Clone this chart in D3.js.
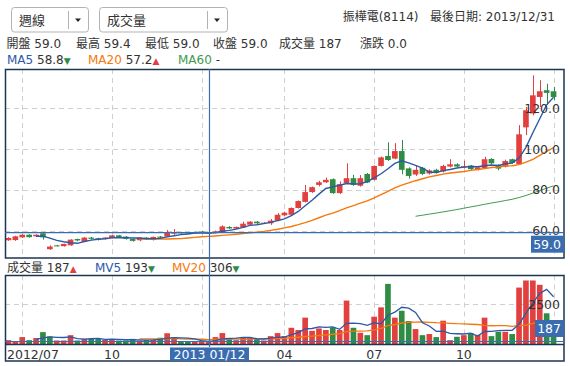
<!DOCTYPE html>
<html>
<head>
<meta charset="utf-8">
<script src="https://cdn.jsdelivr.net/npm/d3@7"></script>
<style>
  body { margin: 0; background: #fff; }
  svg text { font-family: "DejaVu Sans", "Noto Sans CJK TC", sans-serif; fill: #333; }
</style>
</head>
<body>
<svg width="570" height="366"></svg>
<script>
// weekly candles, 2012/06/22 .. 2013/12/31 (CNY week 2013/02/15 has no trading)
const opens = [55.3, 55.4, 56.7, 58.0, 57.2, 58.7, 50.9, 52.8, 52.4, 52.8,
  55.9, 54.6, 56.6, 56.3, 55.9, 56.4, 57.7, 57.1, 55.9, 55.3,
  56.6, 55.4, 57.1, 57.1, 58.5, 59.1, 59.0, 59.2, 59.6, 59.0,
  59.1, 59.2, 61.8, 61.0, 61.5, 62.9, 64.4, 63.7, 63.6, 64.9,
  67.5, 67.8, 71.1, 74.1, 78.9, 82.4, 83.7, 85.2, 78.4, 83.3,
  85.7, 82.0, 87.8, 84.9, 91.7, 96.6, 95.3, 99.0, 90.5, 87.5,
  90.8, 88.0, 89.8, 89.0, 91.4, 92.5, 90.9, 91.9, 89.8, 90.5,
  95.1, 92.2, 91.4, 95.0, 92.5, 110.6, 117.4, 125.5, 128.8, 128.3];
const highs = [56.8, 57.5, 58.2, 58.3, 58.2, 58.9, 52.8, 53.0, 53.6, 55.8,
  56.1, 56.8, 56.9, 56.5, 56.8, 57.9, 57.9, 57.3, 56.1, 56.8,
  56.8, 57.1, 57.4, 60.3, 60.8, 59.4, 59.2, 59.5, 59.9, 59.4,
  60.0, 62.6, 62.2, 62.0, 64.4, 64.6, 64.7, 64.2, 65.7, 68.6,
  69.3, 71.4, 74.8, 82.4, 81.6, 84.4, 86.0, 85.6, 84.1, 93.0,
  87.3, 87.2, 88.2, 92.0, 96.3, 103.3, 102.9, 104.4, 91.0, 91.8,
  91.2, 90.0, 90.3, 92.3, 95.0, 93.0, 94.3, 92.2, 91.4, 96.2,
  95.5, 92.5, 94.8, 95.3, 111.7, 120.6, 136.1, 133.7, 132.0, 130.4];
const lows = [55.0, 55.0, 56.5, 56.6, 57.0, 55.6, 50.6, 52.3, 52.2, 52.6,
  54.8, 54.4, 55.6, 55.2, 55.7, 56.2, 56.5, 55.6, 54.6, 54.8,
  55.6, 55.2, 56.1, 56.9, 58.0, 58.6, 58.3, 58.6, 58.9, 59.0,
  58.9, 59.0, 60.9, 60.8, 61.3, 62.7, 63.4, 63.5, 62.8, 64.6,
  67.2, 67.5, 70.8, 73.8, 78.5, 81.7, 83.3, 78.0, 78.0, 83.0,
  82.0, 81.6, 83.3, 84.6, 91.4, 94.2, 95.0, 87.6, 85.5, 86.8,
  87.2, 87.5, 88.0, 88.5, 91.0, 91.0, 90.5, 89.8, 89.5, 90.2,
  92.5, 89.6, 91.0, 92.8, 92.2, 106.8, 116.5, 120.6, 121.5, 124.0];
const closes = [56.4, 57.2, 58.0, 56.8, 58.0, 56.7, 52.2, 52.5, 53.5, 55.6,
  55.2, 56.6, 56.0, 55.6, 56.6, 57.7, 56.7, 56.0, 55.0, 56.6,
  56.0, 56.9, 56.5, 58.9, 59.1, 58.8, 58.5, 58.8, 59.0, 59.0,
  59.6, 62.1, 61.1, 61.8, 63.4, 64.4, 63.6, 63.9, 64.9, 67.8,
  68.8, 71.1, 74.5, 78.9, 81.3, 83.7, 84.9, 78.4, 82.8, 85.7,
  82.4, 85.7, 83.6, 91.7, 95.9, 94.6, 99.0, 89.8, 86.8, 89.8,
  87.8, 89.5, 88.4, 91.7, 92.5, 91.4, 91.6, 90.1, 91.0, 95.0,
  93.0, 90.4, 94.1, 93.2, 107.2, 119.0, 126.3, 128.3, 127.5, 125.5];
const volumes = [270, 170, 460, 270, 400, 770, 500, 250, 250, 580,
  250, 350, 350, 350, 300, 330, 250, 250, 350, 250,
  280, 300, 420, 700, 430, 210, 205, 185, 180, 187,
  460, 710, 330, 270, 440, 420, 330, 250, 520, 710,
  520, 1040, 900, 1670, 850, 1000, 900, 1060, 900, 2730,
  1040, 730, 580, 1730, 2310, 3770, 1670, 2100, 1460, 960,
  580, 650, 460, 1480, 270, 480, 580, 710, 600, 1670,
  520, 790, 790, 650, 3540, 3980, 3980, 3710, 1940, 1250];

const tickLabels = ["2012/07", "10", "2013/01", "04", "07", "10"];
const priceTicks = [60, 80, 100, 120];
const volTicks = [2500];
const noTradeWeek = new Date(2013, 1, 15);
const weeks = d3.timeFriday.range(new Date(2012, 5, 22), new Date(2014, 0, 4))
  .filter(d => +d !== +noTradeWeek);
const cross = 29; // hovered week
const crossLabel = "2013 01/12";

const RED = "#e2403f", GREEN = "#2f8c45", BLUE = "#2c58a8", ORANGE = "#f5780c",
  MA60C = "#3f9a50", NAVY = "#1c3552", CROSS = "#3a6db0", GRID = "#cfcfcf";

const svg = d3.select("svg");
const N = closes.length;

const ma = (arr, n) => arr.map((v, i) => i < n - 1 ? null : d3.mean(arr.slice(i - n + 1, i + 1)));
const ma5 = ma(closes, 5), ma20 = ma(closes, 20), ma60 = ma(closes, 60);
const mv5 = ma(volumes, 5), mv20 = ma(volumes, 20);

const x = d3.scaleBand().domain(d3.range(N)).range([5, 557]).paddingInner(0.18).paddingOuter(0.09);
const cx = i => x(i) + x.bandwidth() / 2;
const yP = d3.scaleLinear().domain([46.6, 139.2]).range([258, 69]);
const yV = d3.scaleLinear().domain([0, 4290]).range([344.5, 275.5]);

const tickIdx = d3.range(1, N).filter(i =>
  weeks[i].getMonth() !== weeks[i - 1].getMonth() && weeks[i].getMonth() % 3 === 0);

// ---- header ----
function dropdown(x0, w, sep, label) {
  const g = svg.append("g");
  g.append("rect").attr("x", x0 + 0.5).attr("y", 7.5).attr("width", w).attr("height", 24.5)
    .attr("rx", 3).attr("fill", "#fff").attr("stroke", "#b3b3b3");
  g.append("line").attr("x1", sep + 0.5).attr("x2", sep + 0.5).attr("y1", 11).attr("y2", 29)
    .attr("stroke", "#b3b3b3");
  g.append("path").attr("d", `M${sep + 7},18.5 L${sep + 13},18.5 L${sep + 10},22 Z`).attr("fill", "#222");
  g.append("text").attr("x", x0 + 8).attr("y", 24.5).attr("font-size", 13).text(label);
}
dropdown(11, 77, 68, "週線");
dropdown(99, 128, 207, "成交量");

svg.append("text").attr("x", 555).attr("y", 20.5).attr("font-size", 12).attr("text-anchor", "end")
  .text("振樺電(8114)\u00a0\u00a0\u00a0最後日期: 2013/12/31");

const quote = [["開盤", opens[cross], 6.5], ["最高", highs[cross], 76], ["最低", lows[cross], 145],
  ["收盤", closes[cross], 213], ["成交量", volumes[cross], 279], ["漲跌", closes[cross] - closes[cross - 1], 360]];
svg.selectAll("text.quote").data(quote).join("text").attr("class", "quote")
  .attr("x", d => d[2]).attr("y", 47.5).attr("font-size", 12)
  .text(d => d[0] + " " + (d[0] === "成交量" ? d[1] : d3.format(".1f")(d[1])));

function legend(y, items) {
  items.forEach(it => {
    const t = svg.append("text").attr("x", it.x).attr("y", y).attr("font-size", 12);
    t.append("tspan").style("fill", it.color).text(it.name);
    t.append("tspan").text(" " + it.value);
    if (it.up !== undefined) {
      t.append("tspan").attr("font-size", 9).style("fill", it.up ? RED : GREEN).text(it.up ? "▲" : "▼");
    }
  });
}
const f1 = d3.format(".1f");
legend(64, [
  { x: 7, name: "MA5", color: BLUE, value: f1(ma5[cross]), up: ma5[cross] > ma5[cross - 1] },
  { x: 88, name: "MA20", color: ORANGE, value: f1(ma20[cross]), up: ma20[cross] > ma20[cross - 1] },
  { x: 178, name: "MA60", color: MA60C, value: "-" }
]);
legend(272, [
  { x: 7, name: "成交量", color: "#333", value: volumes[cross], up: volumes[cross] >= volumes[cross - 1] },
  { x: 95, name: "MV5", color: BLUE, value: Math.round(mv5[cross]), up: mv5[cross] > mv5[cross - 1] },
  { x: 172, name: "MV20", color: ORANGE, value: Math.round(mv20[cross]), up: mv20[cross] > mv20[cross - 1] }
]);

// ---- clip paths ----
const defs = svg.append("defs");
defs.append("clipPath").attr("id", "clipMain").append("rect").attr("x", 5).attr("y", 69).attr("width", 559).attr("height", 189);
defs.append("clipPath").attr("id", "clipVol").append("rect").attr("x", 5).attr("y", 275.5).attr("width", 559).attr("height", 69);

// ---- main panel ----
const main = svg.append("g").attr("clip-path", "url(#clipMain)");
main.selectAll("line.vg").data(tickIdx).join("line")
  .attr("x1", i => Math.round(cx(i)) + 0.5).attr("x2", i => Math.round(cx(i)) + 0.5)
  .attr("y1", 69).attr("y2", 258).attr("stroke", GRID).attr("stroke-dasharray", "5,4");
main.selectAll("line.hg").data(priceTicks).join("line")
  .attr("x1", 5).attr("x2", 564).attr("y1", d => Math.round(yP(d)) + 0.5).attr("y2", d => Math.round(yP(d)) + 0.5)
  .attr("stroke", GRID).attr("stroke-dasharray", "5,4");

const candleColor = i => closes[i] >= opens[i] ? RED : GREEN;
const candles = main.selectAll("g.candle").data(d3.range(N)).join("g");
candles.append("line")
  .attr("x1", i => Math.round(cx(i)) + 0.5).attr("x2", i => Math.round(cx(i)) + 0.5)
  .attr("y1", i => yP(highs[i])).attr("y2", i => yP(lows[i]))
  .attr("stroke", candleColor);
candles.append("rect")
  .attr("x", i => x(i)).attr("width", x.bandwidth())
  .attr("y", i => yP(Math.max(opens[i], closes[i])))
  .attr("height", i => Math.max(1, Math.abs(yP(opens[i]) - yP(closes[i]))))
  .attr("fill", candleColor);

const priceLine = d3.line().defined(d => d != null).x((d, i) => cx(i)).y(d => yP(d));
[[ma60, MA60C, 1], [ma20, ORANGE, 1.4], [ma5, BLUE, 1.4]].forEach(([s, c, w]) => {
  main.append("path").datum(s).attr("d", priceLine).attr("fill", "none").attr("stroke", c).attr("stroke-width", w);
});

svg.selectAll("text.ptick").data(priceTicks).join("text").attr("class", "ptick")
  .attr("x", 560).attr("y", d => yP(d)).attr("dy", "0.36em").attr("text-anchor", "end")
  .attr("font-size", 12.5).text(d => f1(d));

// ---- volume panel ----
const vol = svg.append("g").attr("clip-path", "url(#clipVol)");
vol.selectAll("line.vg").data(tickIdx).join("line")
  .attr("x1", i => Math.round(cx(i)) + 0.5).attr("x2", i => Math.round(cx(i)) + 0.5)
  .attr("y1", 275.5).attr("y2", 344.5).attr("stroke", GRID).attr("stroke-dasharray", "5,4");
vol.selectAll("line.hg").data(volTicks).join("line")
  .attr("x1", 5).attr("x2", 564).attr("y1", d => Math.round(yV(d)) + 0.5).attr("y2", d => Math.round(yV(d)) + 0.5)
  .attr("stroke", GRID).attr("stroke-dasharray", "5,4");
vol.selectAll("rect.bar").data(d3.range(N)).join("rect")
  .attr("x", i => x(i)).attr("width", x.bandwidth())
  .attr("y", i => yV(volumes[i])).attr("height", i => yV(0) - yV(volumes[i]))
  .attr("fill", i => (i === 0 ? closes[i] >= opens[i] : closes[i] >= closes[i - 1]) ? RED : GREEN);
const volLine = d3.line().defined(d => d != null).x((d, i) => cx(i)).y(d => yV(d));
[[mv20, ORANGE], [mv5, BLUE]].forEach(([s, c]) => {
  vol.append("path").datum(s).attr("d", volLine).attr("fill", "none").attr("stroke", c).attr("stroke-width", 1.3);
});
svg.selectAll("text.vtick").data(volTicks).join("text").attr("class", "vtick")
  .attr("x", 560).attr("y", d => yV(d)).attr("dy", "0.36em").attr("text-anchor", "end")
  .attr("font-size", 12.5).text(d => d);

// x axis labels (the one under the crosshair date box is covered by it)
const xc = Math.round(cx(cross)) + 0.5;
const shownTicks = tickIdx.map((i, k) => ({ i, k })).filter(d => Math.abs(cx(d.i) - xc) > 40);
svg.selectAll("text.xtick").data(shownTicks).join("text").attr("class", "xtick")
  .attr("x", d => d.k === 0 ? 7 : cx(d.i)).attr("y", 358.5)
  .attr("text-anchor", d => d.k === 0 ? "start" : "middle")
  .attr("font-size", 12.5).text(d => tickLabels[d.k]);

// ---- frames ----
svg.append("rect").attr("x", 5.5).attr("y", 69.5).attr("width", 558.5).attr("height", 188.5)
  .attr("fill", "none").attr("stroke", NAVY).attr("stroke-width", 1.5);
svg.append("rect").attr("x", 5.5).attr("y", 275.5).attr("width", 558.5).attr("height", 85.5)
  .attr("fill", "none").attr("stroke", NAVY).attr("stroke-width", 1.5);
svg.append("line").attr("x1", 5).attr("x2", 564).attr("y1", 344.5).attr("y2", 344.5)
  .attr("stroke", NAVY).attr("stroke-width", 1.5);

// ---- crosshair ----
svg.append("line").attr("x1", xc).attr("x2", xc).attr("y1", 69).attr("y2", 347)
  .attr("stroke", CROSS).attr("stroke-width", 1.2);
const yc = yP(closes[cross]);
svg.append("line").attr("x1", 5).attr("x2", 564).attr("y1", yc).attr("y2", yc)
  .attr("stroke", CROSS).attr("stroke-width", 1.2);
const yvc = yV(volumes[cross]);
svg.append("line").attr("x1", 5).attr("x2", 564).attr("y1", yvc).attr("y2", yvc)
  .attr("stroke", CROSS).attr("stroke-width", 1.2);

svg.append("rect").attr("x", 531).attr("y", yc + 3).attr("width", 33).attr("height", 17).attr("fill", CROSS);
svg.append("text").attr("x", 561).attr("y", yc + 11.5).attr("dy", "0.36em").attr("text-anchor", "end")
  .attr("font-size", 12.5).style("fill", "#fff").text(f1(closes[cross]));

svg.append("rect").attr("x", 535).attr("y", yvc - 21.5).attr("width", 29).attr("height", 17).attr("fill", CROSS);
svg.append("text").attr("x", 561).attr("y", yvc - 13).attr("dy", "0.36em").attr("text-anchor", "end")
  .attr("font-size", 12.5).style("fill", "#fff").text(volumes[cross]);

svg.append("rect").attr("x", xc - 39.5).attr("y", 347.5).attr("width", 79).attr("height", 13.5).attr("fill", CROSS);
svg.append("text").attr("x", xc).attr("y", 358.5).attr("text-anchor", "middle")
  .attr("font-size", 12.5).style("fill", "#fff").text(crossLabel);
</script>
</body>
</html>
